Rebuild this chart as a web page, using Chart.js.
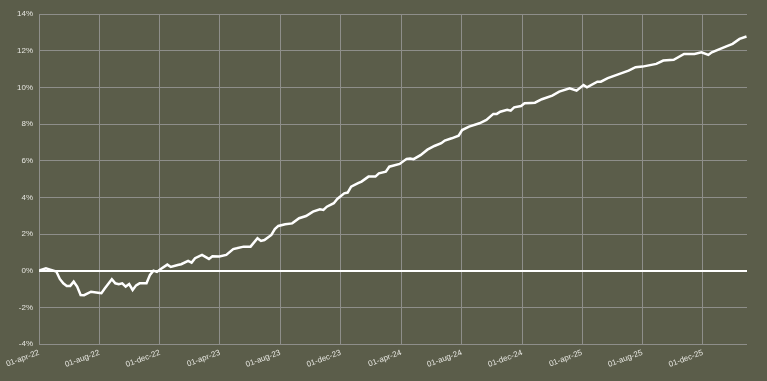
<!DOCTYPE html>
<html>
<head>
<meta charset="utf-8">
<script src="https://cdn.jsdelivr.net/npm/chart.js@4/dist/chart.umd.min.js"></script>
<style>
  html, body { margin: 0; padding: 0; background: #5B5D4A; }
  #wrap { width: 767px; height: 381px; }
</style>
</head>
<body>
<div id="wrap"><canvas id="c" width="767" height="381"></canvas></div>
<script>
// Series start date (weekly observations)
const startDate = '2022-04-01';
// Week number of each observation, counted from startDate
const weeks = [0,2,3,5,6,7,8,9,10,11,12,13,15,17,18,19,21,22,23,24,25,26,27,28,29,31,32,33,34,35,
  37,38,40,41,43,44,45,47,49,50,52,54,56,57,59,61,63,64,65,67,68,69,71,73,75,77,79,81,82,83,
  85,86,88,89,90,92,93,95,97,98,100,101,104,106,107,108,110,112,114,116,117,119,121,122,124,127,129,131,132,133,
  135,136,137,139,140,142,143,145,148,150,153,155,157,158,161,162,164,167,170,172,174,178,180,183,186,189,191,193,194,198,
  200,202,204];
// Cumulative return, %
const values = [0,0.13,0.07,-0.05,-0.45,-0.69,-0.83,-0.83,-0.6,-0.87,-1.33,-1.34,-1.15,-1.2,-1.23,-0.96,-0.47,-0.69,-0.74,-0.69,-0.87,-0.73,-1.05,-0.8,-0.69,-0.69,-0.23,0,-0.07,0.08,
  0.33,0.2,0.31,0.35,0.53,0.44,0.68,0.86,0.64,0.79,0.77,0.86,1.18,1.22,1.31,1.31,1.77,1.62,1.67,1.95,2.27,2.44,2.53,2.58,2.86,2.98,3.22,3.35,3.31,3.49,
  3.68,3.91,4.22,4.26,4.58,4.77,4.86,5.13,5.13,5.31,5.4,5.67,5.82,6.1,6.12,6.08,6.3,6.6,6.8,6.95,7.1,7.22,7.36,7.67,7.86,8.04,8.22,8.55,8.55,8.67,
  8.77,8.73,8.91,8.98,9.13,9.15,9.16,9.35,9.55,9.77,9.95,9.82,10.13,10.0,10.31,10.31,10.5,10.71,10.91,11.1,11.13,11.28,11.46,11.5,11.82,11.82,11.91,11.77,11.91,12.22,
  12.37,12.64,12.77];
// X-axis tick dates
const xTickDates = ['2022-04-01','2022-08-01','2022-12-01','2023-04-01','2023-08-01','2023-12-01',
  '2024-04-01','2024-08-01','2024-12-01','2025-04-01','2025-08-01','2025-12-01'];
const axisEndDate = '2026-02-28';
// Y-axis ticks, %
const yTicks = [-4,-2,0,2,4,6,8,10,12,14];

const monthNames = ['jan','feb','mar','apr','may','jun','jul','aug','sep','oct','nov','dec'];
const DAY = 86400000;
const t0 = Date.parse(startDate);
const dayOf = s => Math.round((Date.parse(s) - t0) / DAY);
const fmt = s => {
  const d = new Date(Date.parse(s));
  return String(d.getUTCDate()).padStart(2,'0') + '-' + monthNames[d.getUTCMonth()] + '-' + String(d.getUTCFullYear()).slice(2);
};
const tickLabelByDay = {};
xTickDates.forEach(s => { tickLabelByDay[dayOf(s)] = fmt(s); });

const points = weeks.map((w, i) => ({ x: w * 7, y: values[i] }));

const txt = '#E6E6E0';
const grid = '#8E8E8A';
const font = { family: 'Liberation Sans, Arial, sans-serif', size: 8 };

new Chart(document.getElementById('c'), {
  type: 'line',
  data: {
    datasets: [{
      data: points,
      borderColor: '#FFFFFF',
      borderWidth: 2.5,
      pointRadius: 0,
      tension: 0,
      fill: false
    }]
  },
  options: {
    responsive: false,
    animation: false,
    events: [],
    layout: { padding: { top: 14, right: 20, left: 0, bottom: 0 } },
    plugins: { legend: { display: false }, tooltip: { enabled: false } },
    scales: {
      x: {
        type: 'linear',
        min: 0,
        max: dayOf(axisEndDate),
        afterBuildTicks: sc => { sc.ticks = xTickDates.map(s => ({ value: dayOf(s) })); },
        afterFit: sc => { sc.height = 37; },
        border: { display: false },
        grid: { color: grid, lineWidth: 1, drawTicks: false },
        ticks: {
          autoSkip: false,
          minRotation: 20,
          maxRotation: 20,
          padding: 4,
          color: txt,
          font: font,
          callback: v => tickLabelByDay[v] || ''
        }
      },
      y: {
        min: -4,
        max: 14,
        afterBuildTicks: sc => { sc.ticks = yTicks.map(v => ({ value: v })); },
        afterFit: sc => { sc.width = 39; },
        border: { display: false },
        grid: {
          color: c => c.tick && c.tick.value === 0 ? '#FFFFFF' : grid,
          lineWidth: c => c.tick && c.tick.value === 0 ? 2 : 1,
          drawTicks: false
        },
        ticks: {
          padding: 6,
          color: txt,
          font: font,
          callback: v => v + '%'
        }
      }
    }
  }
});
</script>
</body>
</html>
